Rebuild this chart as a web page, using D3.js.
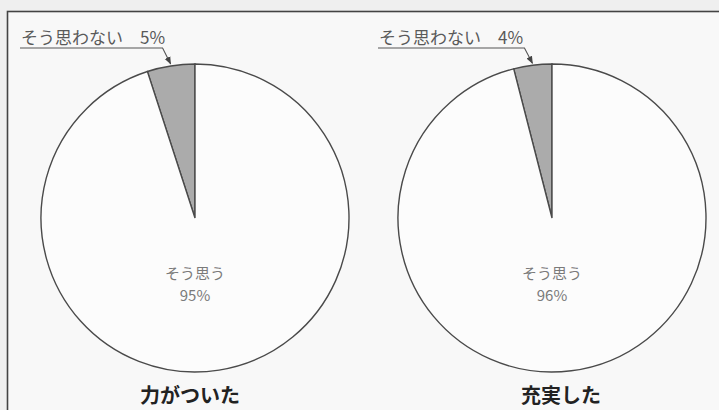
<!DOCTYPE html>
<html>
<head>
<meta charset="utf-8">
<script src="https://cdn.jsdelivr.net/npm/d3@7"></script>
<style>
  html, body { margin: 0; padding: 0; background: #efefef; }
  svg { display: block; }
  text { font-family: "Noto Sans CJK JP", "Noto Sans", sans-serif; }
</style>
</head>
<body>
<svg id="chart" width="719" height="410"></svg>
<script>
// Survey results: two questions, share of "agree" vs "disagree"
const questions = ["力がついた", "充実した"];
const agreeLabel = "そう思う";
const disagreeLabel = "そう思わない";
const agreeValues = [95, 96];
const disagreeValues = [5, 4];

const W = 719, H = 410;
const svg = d3.select("#chart");

// panel frame (open on the right and bottom)
svg.append("rect").attr("x", 7.5).attr("y", 11.5).attr("width", W).attr("height", H)
  .attr("fill", "#f8f8f8").attr("stroke", "#444").attr("stroke-width", 1.6);

const defs = svg.append("defs");
defs.append("marker").attr("id", "arrow")
  .attr("viewBox", "0 0 10 10").attr("refX", 9).attr("refY", 5)
  .attr("markerWidth", 7).attr("markerHeight", 7).attr("orient", "auto")
  .append("path").attr("d", "M0,1 L10,5 L0,9 Z").attr("fill", "#444");

// pie layout: centres spread across the panel
const cx = d3.scalePoint().domain(questions).range([195, 552]);
const cy = 218, R = 154;
const titleOffset = [-5, 9];
const labelX = [20, 378];

const arc = d3.arc().innerRadius(0).outerRadius(R);

questions.forEach((q, i) => {
  const total = agreeValues[i] + disagreeValues[i];
  const start = -2 * Math.PI * disagreeValues[i] / total;
  const pie = d3.pie().sort(null).value(d => d.v)
    .startAngle(start).endAngle(start + 2 * Math.PI);
  const slices = pie([
    { k: disagreeLabel, v: disagreeValues[i] },
    { k: agreeLabel, v: agreeValues[i] }
  ]);

  const g = svg.append("g").attr("transform", `translate(${cx(q)},${cy})`);
  g.selectAll("path").data(slices).join("path")
    .attr("d", arc)
    .attr("fill", d => d.data.k === disagreeLabel ? "#ababab" : "#fcfcfc")
    .attr("stroke", "#4a4a4a")
    .attr("stroke-width", 1.4);

  // inside label for the large slice
  g.append("text").attr("x", 0).attr("y", 61)
    .attr("text-anchor", "middle").attr("font-size", 15).attr("fill", "#7a7a7a")
    .text(agreeLabel);
  g.append("text").attr("x", 0).attr("y", 83)
    .attr("text-anchor", "middle").attr("font-size", 15).attr("fill", "#7a7a7a")
    .text(agreeValues[i] + "%");

  // outside label for the small slice with leader line
  const small = slices[0];
  const mid = (small.startAngle + small.endAngle) / 2;
  const tipX = cx(q) + (R + 2) * Math.sin(mid);
  const tipY = cy - (R + 2) * Math.cos(mid);
  const lx = labelX[i];
  svg.append("text").attr("x", lx + 1).attr("y", 44)
    .attr("font-size", 17).attr("fill", "#5a5a5a")
    .text(disagreeLabel + "　" + disagreeValues[i] + "%");
  const bendX = tipX - 8;
  svg.append("path")
    .attr("d", `M${lx},48 L${bendX},48 L${tipX},${tipY}`)
    .attr("fill", "none").attr("stroke", "#555").attr("stroke-width", 1.1)
    .attr("marker-end", "url(#arrow)");

  // question title under the pie
  svg.append("text").attr("x", cx(q) + titleOffset[i]).attr("y", 403)
    .attr("text-anchor", "middle").attr("font-size", 20).attr("font-weight", 700)
    .attr("fill", "#222").text(q);
});
</script>
</body>
</html>
